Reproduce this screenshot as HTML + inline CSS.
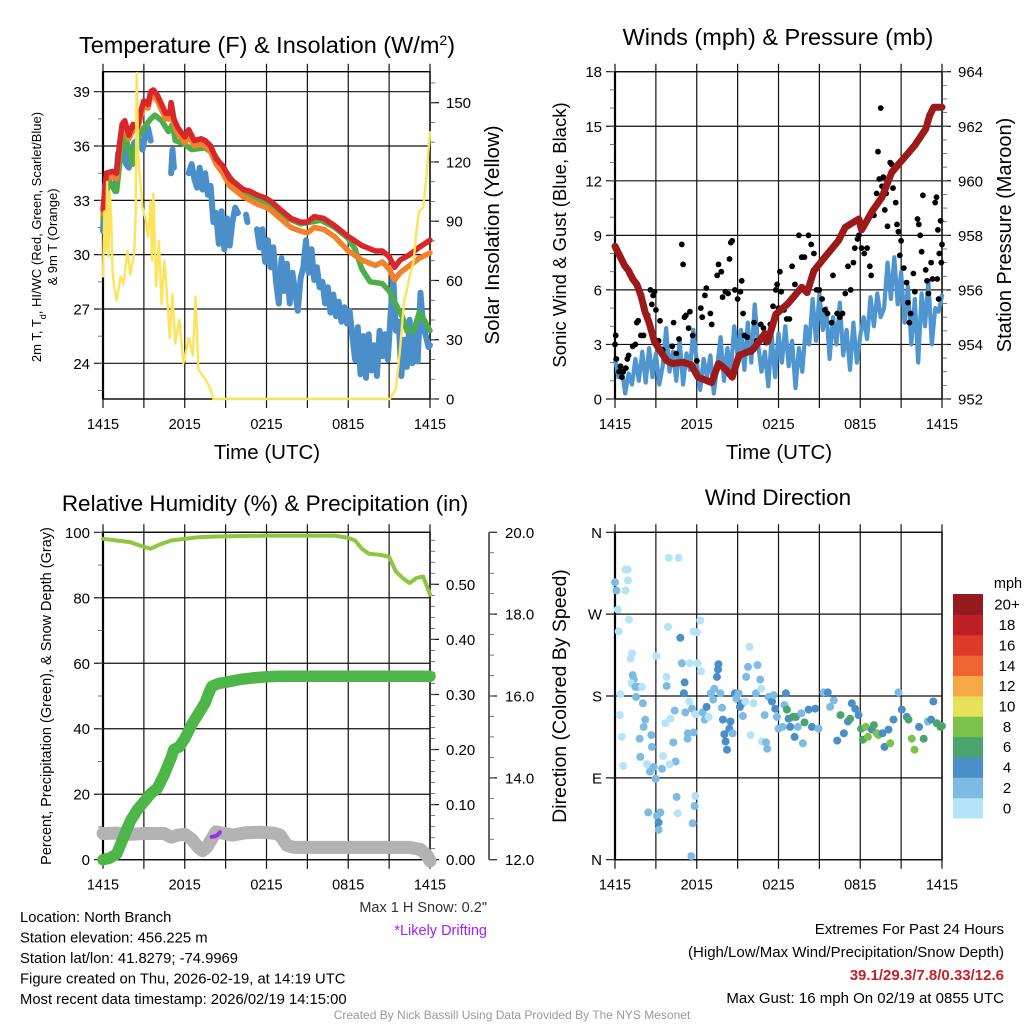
<!DOCTYPE html>
<html><head><meta charset="utf-8"><title>NYS Mesonet Meteogram</title>
<style>
html,body{margin:0;padding:0;background:#fff;}
svg{display:block;font-family:"Liberation Sans",Arial,sans-serif;}
</style></head>
<body>
<svg id="fig" xmlns="http://www.w3.org/2000/svg" width="1024" height="1024" viewBox="0 0 1024 1024"></svg>
<script>
// ===== Panel 1 data: temperature (F) & insolation =====
const redHours=[0,0.25,0.7,1,1.2,1.4,1.6,1.9,2.2,2.5,2.8,3,3.3,3.5,3.7,4,4.3,4.6,4.9,5,5.2,5.5,6,6.3,6.7,7.2,7.5,7.9,8.3,8.8,9.3,9.8,10.3,10.8,11.3,12,12.4,13,13.8,14.5,15,15.5,16.2,17,18,19,20,20.5,21,21.4,21.8,22.5,23.2,24];
const tempRed=[32.5,34.5,34.6,34.5,36,37.2,37.4,36.6,37.2,37,38,38.5,38.3,39,39.1,38.8,38.3,37.8,37.8,38.4,37.5,37,36.5,36.9,36.3,36.4,36.3,36,35.3,34.9,34.2,33.9,33.6,33.5,33.3,33.1,32.9,32.5,32.0,31.8,31.8,32.1,32.0,31.6,31.0,30.5,30.2,30.2,29.9,29.3,29.7,30,30.4,30.8];
const temp9mOrange=[32.3,34.2,34.3,34.2,35.8,37.0,37.1,36.4,36.9,36.8,37.7,38.2,38.1,38.7,38.8,38.5,38.0,37.5,37.5,38.1,37.2,36.7,36.2,36.5,36.0,36.1,36.0,35.7,35.0,34.5,33.8,33.5,33.2,33.0,32.8,32.6,32.4,32.0,31.5,31.3,31.2,31.5,31.4,31.0,30.2,29.7,29.4,29.6,29.2,28.6,29.0,29.4,29.8,30.1];
const greenHours=[0,0.4,1,1.3,1.6,2,2.2,2.5,3,3.5,3.8,4.3,4.8,5.1,5.3,6,6.5,7.5,8.2,8.8,9.6,10.3,11,11.6,12.5,13.3,14.5,15.2,16,17,18,18.5,19,19.6,20.5,21,22,22.3,22.8,23.2,23.5,24];
const dewGreen=[32,34,33.5,35.5,36.7,35.5,35,36.4,37,37.5,37.7,37.4,36.8,37.2,36.3,36.1,35.8,35.9,35.5,34.8,34,33.5,33.2,33,32.6,32.1,31.7,31.8,31.9,31.5,30.9,30.3,29.2,28.5,28.4,28,26.5,25.8,25.8,26.8,26.5,25.8];
const blueHours=[0,0.15,0.3,0.5,0.7,0.9,1.1,1.3,1.5,1.7,1.9,2.1,2.3,2.5,2.7,2.9,3.1,3.3,3.5,null,5.0,5.1,5.2,null,6.3,6.5,6.7,6.9,7.1,7.3,7.5,7.7,7.9,8.1,8.3,8.5,8.7,8.9,9.1,9.3,9.5,9.7,9.9,null,10.5,10.6,null,11.3,11.5,11.7,11.9,12.1,12.3,12.5,12.7,12.9,13.1,13.3,13.5,13.7,13.9,14.1,14.3,14.5,14.7,14.9,15.1,15.3,15.5,15.7,15.9,16.1,16.3,16.5,16.7,16.9,17.1,17.3,17.5,17.7,17.9,18.1,18.3,18.5,18.7,18.9,19.1,19.3,19.5,19.7,19.9,20.1,20.3,20.5,20.7,20.9,21.1,21.3,21.5,21.7,21.9,22.1,22.3,22.5,22.7,22.9,23.1,23.3,23.5,23.7,23.9,24];
const windChillBlue=[31.3,33.8,34.4,34,33.8,33.5,35.6,35.2,36.2,35.0,34.8,35.6,36.2,35.9,36.3,35.8,36.6,37.0,36.3,null,34.5,35.8,34.8,null,34.5,35.0,34.2,33.7,34.8,33.6,34.5,33.3,33.8,31.8,32.3,30.6,32.4,30.3,32.0,30.5,31.8,32.6,32.3,null,32.2,31.8,null,31.4,30.4,31.4,29.6,30.8,29.3,30.4,28.5,27.3,29.8,28.0,29.5,27.3,29.0,28.0,26.9,28.7,29.3,30.8,29.0,30.3,28.6,29.3,28.2,28.5,27.3,28.2,26.8,27.8,26.6,27.4,26.3,27.1,26.2,26.9,25.5,24.2,26.0,23.4,25.5,23.2,25.6,23.6,25.0,23.3,25.8,24.4,25.6,24.2,26.6,28.8,25.8,26.3,23.3,25.3,23.8,26.4,24.0,25.8,24.1,27.9,26.0,25.5,24.9,25.0];
const solarHours=[0,0.1,0.2,0.3,0.4,0.5,0.6,0.7,0.8,1.0,1.3,1.5,1.8,2.0,2.3,2.4,2.47,2.6,2.9,3.1,3.3,3.5,3.6,3.7,3.9,4.1,4.3,4.5,4.6,4.9,5.1,5.3,5.6,5.9,6.3,6.6,6.8,7.0,7.2,7.5,7.9,8.1,21.05,21.5,21.8,22.1,22.3,22.5,22.8,23.0,23.2,23.5,23.7,24];
const solarVals=[62,95,75,110,72,105,92,65,58,50,62,58,75,63,74,94,165,121,97,92,82,100,70,104,57,80,48,70,62,31,53,28,40,18,31,22,52,15,13,10,5,0,0,5,25,50,55,62,70,85,95,97,110,135];
const tempTicks=[24,27,30,33,36,39];
const solarTicks=[0,30,60,90,120,150];
const timeLabels=["1415","2015","0215","0815","1415"];

// ===== Panel 2 data: winds & pressure =====
const windBlue=[2.2,1.2,1.6,0.3,1.4,0.8,2.2,1.0,2.6,0.9,2.8,1.2,2.5,0.8,1.8,3.9,1.5,2.6,1.0,3.2,0.8,2.5,1.6,3.8,2.0,0.5,2.2,1.2,2.4,0.3,1.8,3.4,1.0,2.8,1.5,4.0,2.4,3.8,1.6,4.2,2.0,5.2,3.0,1.5,2.6,0.7,3.5,1.2,3.6,2.0,4.0,1.8,3.2,0.6,2.8,1.5,4.0,3.0,5.5,3.2,5.8,3.8,5.0,2.2,4.5,3.0,5.3,2.4,3.8,1.6,4.2,2.0,3.5,4.5,3.3,5.6,4.0,5.8,4.5,5.0,7.5,5.5,7.8,5.2,7.0,4.2,6.2,3.0,5.5,2.0,5.8,4.0,6.5,3.0,5.0,4.8,5.7];
const gustHours=[0,0.05,0.1,0.3,0.4,0.5,0.6,0.8,0.9,1.0,1.3,1.5,1.6,1.7,1.9,2.1,2.2,2.4,2.6,2.7,2.8,2.9,3.0,3.3,3.5,3.2,4.3,4.2,4.5,4.7,4.9,5.0,5.1,5.2,5.4,5.5,5.7,6.0,6.3,6.4,6.6,6.7,7.0,7.1,7.5,7.6,7.8,7.9,8.1,8.3,8.5,8.6,8.4,8.8,9.0,9.2,9.3,9.4,9.5,9.7,10.0,10.2,10.4,10.7,10.9,11.1,11.4,11.6,11.8,11.9,12.0,12.2,12.4,12.1,12.6,12.8,13.0,13.2,13.5,13.7,13.9,14.2,14.4,14.6,14.8,15.0,15.2,15.4,15.6,15.9,16.0,16.3,16.5,16.7,16.9,17.1,17.3,17.5,17.6,17.8,17.9,18.1,18.3,18.5,18.7,18.8,19.0,19.2,19.3,19.4,19.5,19.6,19.7,19.8,19.9,20.0,20.2,20.3,20.4,20.6,20.7,20.8,20.9,21.0,21.2,21.4,21.5,21.6,21.7,21.9,22.0,22.2,22.3,22.4,22.5,22.6,22.8,22.9,23.0,23.2,23.3,23.5,23.6,23.7,23.9,24.0,23.8,23.95,23.75,23.65];
const gustVals=[3.0,3.5,2.2,1.5,1.8,1.2,1.5,1.7,2.2,2.4,2.9,3.0,4.2,4.3,3.5,3.5,4.8,4.6,6.0,5.2,5.7,5.9,4.9,4.3,2.7,3.2,4.2,2.9,2.5,3.3,8.5,7.4,4.5,4.6,3.9,4.8,3.5,2.1,5.0,4.5,5.7,6.1,4.7,4.1,6.8,7.4,7.0,5.6,5.9,5.8,8.6,8.7,7.7,6.0,5.5,5.9,6.5,4.7,3.5,3.4,2.6,4.2,3.2,4.1,3.9,3.1,4.1,5.1,6.0,6.3,5.0,5.9,4.9,7.0,4.4,4.4,7.3,6.3,9.0,7.8,7.8,9.0,8.5,8.0,6.0,6.0,5.5,4.9,4.7,4.2,6.8,4.7,4.5,4.7,5.8,7.3,6.0,7.5,8.3,8.8,9.0,8.3,8.0,8.3,7.3,6.8,10.1,11.3,13.6,12.1,16.0,11.7,12.2,10.4,11.3,9.5,13.0,12.9,11.6,10.8,9.6,9.2,7.9,8.7,7.2,6.4,5.3,4.2,4.7,6.9,5.9,9.9,9.6,9.0,8.1,11.2,7.1,6.5,5.8,7.5,6.6,10.8,11.1,9.3,9.8,8.5,8.0,7.5,5.5,6.6];
const presHours=[0,0.3,0.7,1,1.3,1.6,1.9,2.2,2.5,2.9,3.45,3.8,4.2,5.0,5.6,6.1,7.1,7.6,8.1,8.6,9.1,10.1,11,11.2,11.8,12.7,13.7,14.1,14.6,15.4,16.4,16.9,17.9,18.1,18.9,19.6,20.3,20.8,21.5,22,22.8,23.1,23.4,24];
const presVals=[957.6,957.3,956.9,956.7,956.4,956.2,955.8,955.2,954.8,954.1,953.67,953.4,953.3,953.35,953.25,952.8,952.6,953.3,953.1,952.8,953.6,953.8,954.4,954.1,955.1,955.5,956.1,955.9,956.7,957.2,957.8,958.3,958.6,958.2,958.9,959.4,960.3,960.6,961,961.3,961.9,962.4,962.7,962.7];
const windTicks=[0,3,6,9,12,15,18];
const presTicks=[952,954,956,958,960,962,964];

// ===== Panel 3 data: RH, precip, snow depth =====
const rhHours=[0,1,2,3,3.5,4,5,6,7,8,12,17,18,18.5,19,19.5,20.5,21,21.5,22,22.5,23,23.5,24];
const rhVals=[98,97.5,97,95.5,95,96,97.5,98,98.5,98.7,99,99,98.3,97.5,95,93.5,93,92.5,88,86,84.5,86,86.5,81];
const precipHours=[0,0.5,1,1.5,2,2.5,3,3.5,4,4.5,5,5.2,5.6,6,6.5,7,7.5,7.8,8,8.5,9,10,11,12,13,24];
const precipVals=[0,0.003,0.01,0.04,0.07,0.09,0.105,0.12,0.13,0.155,0.185,0.2,0.205,0.22,0.245,0.265,0.285,0.305,0.315,0.32,0.322,0.327,0.33,0.332,0.333,0.333];
const snowHours=[0,1,2,3,4.5,5,5.5,6,6.5,7,7.3,7.6,8,8.3,8.8,9.5,10.5,11.5,12.5,13,13.5,14,16,20,22.5,23.3,23.8,24];
const snowVals=[12.64,12.65,12.62,12.64,12.64,12.55,12.6,12.62,12.5,12.3,12.22,12.3,12.52,12.68,12.65,12.6,12.66,12.67,12.65,12.6,12.35,12.3,12.3,12.3,12.3,12.25,12.1,11.97];
const driftHours=[7.97,8.2,8.4,8.58];
const driftVals=[12.56,12.57,12.6,12.67];
const rhTicks=[0,20,40,60,80,100];
const precipTicks=[0,0.1,0.2,0.3,0.4,0.5];
const snowTicks=[12,14,16,18,20];

// ===== Panel 4 data: wind direction =====
const dirHours=[0,0.1,0.2,0.27,0.4,0.35,0.5,0.6,0.76,0.93,0.95,0.78,1.03,1.25,1.15,1.3,1.37,1.2,1.5,1.69,1.98,1.54,2.05,1.81,2.22,2.1,1.86,2.35,2.57,2.67,2.71,2.84,2.98,3.03,2.44,3.08,3.33,3.2,3.2,3.45,3.52,3.69,3.89,3.94,4.67,3.77,3.79,4.08,4.28,4.38,4.45,4.0,4.52,4.6,4.79,4.91,5.11,5.06,5.16,5.33,5.35,5.45,5.5,5.77,6.01,6.26,6.06,6.31,5.89,5.84,5.7,5.6,5.65,5.77,5.89,6.43,6.58,6.72,6.87,7.04,7.21,7.29,7.48,7.56,7.6,7.73,7.85,7.92,8.02,8.12,8.22,8.39,8.48,8.63,8.8,8.9,9.07,9.17,9.32,9.39,9.56,9.63,9.76,9.88,9.95,10.17,10.34,10.46,10.66,10.73,10.78,10.98,11.08,11.17,11.27,11.52,11.64,11.76,11.88,12.0,12.3,12.44,12.54,12.62,12.74,12.86,13.06,13.18,13.28,13.42,13.67,13.79,13.91,14.21,14.45,14.69,14.94,15.31,15.62,15.79,16.06,16.31,16.55,16.8,17.09,17.26,17.38,17.63,17.87,18.07,18.19,18.41,18.56,18.85,19.0,19.22,19.34,19.63,19.78,20.07,20.2,20.44,20.81,21.05,21.42,21.54,21.78,21.98,22.32,22.66,22.96,23.2,23.37,23.62,23.89,23.99];
const dirDeg=[305,296,275,251,182,159,135,103,319,319,307,296,264,227,221,203,198,194,190,190,190,179,172,133,154,146,113,105,97,137,124,102,89,224,52,48,52,41,33,100,114,150,256,332,332,201,191,155,129,164,108,105,69,51,244,216,195,183,162,133,139,174,216,251,250,263,216,207,70,59,40,4,166,140,160,162,154,168,157,183,176,188,201,209,215,183,167,154,138,130,121,144,152,139,183,177,183,168,172,158,174,201,212,234,137,172,183,214,198,188,130,159,129,122,179,174,181,166,157,144,146,170,183,165,155,146,157,135,157,146,161,128,151,165,146,166,144,184,184,168,175,131,159,139,152,155,172,166,159,144,132,146,135,143,148,139,137,139,124,143,128,154,184,165,157,154,133,121,146,133,152,154,174,150,146,147];
const dirSpeed=[3,3,1,1,1,1,1,1,1,1,1,1,1,1,1,3,3,1,3,3,1,3,3,3,3,3,3,1,3,3,3,3,3,1,3,3,3,5,3,3,1,1,1,1,1,1,3,1,3,3,3,1,3,1,5,3,5,5,3,3,3,1,1,1,1,1,1,1,1,3,3,3,3,3,1,3,3,5,1,3,3,3,5,5,5,3,3,5,5,5,5,5,5,3,5,3,3,5,5,3,1,3,3,1,1,1,3,3,3,1,1,3,3,3,3,5,3,5,3,3,3,3,5,7,5,5,7,5,7,3,3,3,7,5,5,5,3,3,5,3,3,5,7,5,5,7,5,5,5,7,7,9,9,5,7,9,9,5,5,5,9,5,3,5,5,7,9,9,5,7,3,5,5,7,7,7];
const dirTickLabels=["N","E","S","W","N"];
const speedBins=[0,2,4,6,8,10,12,14,16,18,20];
const speedLabels=["0","2","4","6","8","10","12","14","16","18","20+"];
const speedColors=["#b5e3f8","#7dbbe5","#4a8fc7","#4aa56d","#7ac24a","#e6e05a","#f5a845","#ef652f","#de3a2b","#bf1e25","#961a1d"];

// ===== drawing helpers =====
const NS="http://www.w3.org/2000/svg";
const svg=document.getElementById('fig');
function el(tag,attrs,parent){const e=document.createElementNS(NS,tag);for(const k in attrs)e.setAttribute(k,attrs[k]);(parent||svg).appendChild(e);return e;}
function lin(d0,d1,r0,r1){return v=>r0+(v-d0)*(r1-r0)/(d1-d0);}
function txt(s,x,y,size,anchor,name,extra){
  const t=el('text',Object.assign({x:x,y:y,'font-size':size,'text-anchor':anchor||'start',fill:'#000'},extra||{}));
  t.textContent=s;
  
  
  return t;
}
function vtxt(s,x,y,size,name){
  const t=el('text',{x:0,y:0,'font-size':size,'text-anchor':'middle',fill:'#000',transform:`translate(${x},${y}) rotate(-90)`});
  t.textContent=s;
  
  
  return t;
}
function path(hs,vs,sx,sy,color,w,name,extra){
  let d='',pen=false;
  for(let i=0;i<hs.length;i++){
    if(hs[i]===null||vs[i]===null){pen=false;continue;}
    d+=(pen?'L':'M')+sx(hs[i]).toFixed(1)+','+sy(vs[i]).toFixed(1);pen=true;
  }
  const p=el('path',Object.assign({d:d,fill:'none',stroke:color,'stroke-width':w,'stroke-linejoin':'round','stroke-linecap':'round'},extra||{}));
  
  
  return p;
}
function frame(P,name){
  const g=el('g',{});
  
  
  for(let h=0;h<=24;h+=3){
    const x=P.sx(h);
    const ln=el('line',{x1:x,x2:x,y1:P.y0-8,y2:P.y1+9,stroke:'#111','stroke-width':1.2},g);
    
    
  }
  for(let i=0;i<timeLabels.length;i++){
    txt(timeLabels[i],P.sx(i*6),P.y1+30,14.5,'middle','x-tick-label');
  }
  const r=el('rect',{x:P.x0,y:P.y0,width:P.x1-P.x0,height:P.y1-P.y0,fill:'none',stroke:'#000','stroke-width':1.4},g);
  
  
  const lb=el('line',{x1:P.x0,x2:P.x0,y1:P.y0,y2:P.y1,stroke:'#000','stroke-width':2.2},g);
  
  
  return g;
}
function leftAxis(P,ticks,sy,fmt,minorStep,name){
  for(const v of ticks){
    const y=sy(v);
    const ln=el('line',{x1:P.x0-9,x2:P.x1,y1:y,y2:y,stroke:'#111','stroke-width':1.2});
    
    
    txt(fmt(v),P.x0-13,y+5.5,15,'end',name+'-tick-label');
  }
  if(minorStep){
    const lo=ticks[0],hi=ticks[ticks.length-1];
    for(let v=lo-minorStep*20;v<=hi+minorStep*20;v+=minorStep){
      const y=sy(v);
      if(y<P.y0-0.5||y>P.y1+0.5)continue;
      const m=el('line',{x1:P.x0-5,x2:P.x0,y1:y,y2:y,stroke:'#555','stroke-width':0.8});
      
      
    }
  }
}
function rightAxis(P,ticks,sy,fmt,minorStep,name){
  for(const v of ticks){
    const y=sy(v);
    const ln=el('line',{x1:P.x1,x2:P.x1+9,y1:y,y2:y,stroke:'#111','stroke-width':1.2});
    
    
    txt(fmt(v),P.x1+16,y+5.5,15,'start',name+'-tick-label');
  }
  if(minorStep){
    const lo=ticks[0];
    for(let k=-40;k<200;k++){
      const v=lo+k*minorStep;const y=sy(v);
      if(y<P.y0-0.5||y>P.y1+0.5)continue;
      const m=el('line',{x1:P.x1,x2:P.x1+5,y1:y,y2:y,stroke:'#555','stroke-width':0.8});
      
      
    }
  }
}

// ===== Panel 1 =====
const P1={x0:103,x1:430,y0:71.7,y1:399};
P1.sx=lin(0,24,P1.x0,P1.x1);
const yTemp=lin(24,39,363.3,91.7);
const ySolar=lin(0,150,399,102.7);
frame(P1,'temperature-panel-frame');
leftAxis(P1,tempTicks,yTemp,v=>String(v),1.5,'temperature-axis');
rightAxis(P1,solarTicks,ySolar,v=>String(v),10,'solar-axis');
path(blueHours,windChillBlue,P1.sx,yTemp,'#4a8fc9',6,'windchill-blue-line');
path(greenHours,dewGreen,P1.sx,yTemp,'#4cae47',5.5,'dewpoint-green-line');
path(redHours,temp9mOrange,P1.sx,yTemp,'#f3802b',5.5,'temp-9m-orange-line');
path(redHours,tempRed,P1.sx,yTemp,'#d8262a',5.5,'temp-2m-red-line');
path(solarHours,solarVals,P1.sx,ySolar,'#fde35a',2.4,'solar-insolation-line');
{const t=txt('Temperature (F) & Insolation (W/m',267,53,23.5,'middle','temperature-panel-title');
 const s=el('tspan',{'baseline-shift':'super','font-size':14},t);s.textContent='2';
 const e=el('tspan',{},t);e.textContent=')';}
txt('Time (UTC)',267,459,20.5,'middle','x-axis-title');
vtxt('Solar Insolation (Yellow)',499,235,20.5,'solar-axis-title');
{const t=el('text',{x:0,y:0,'font-size':13,'text-anchor':'middle',transform:'translate(41,237) rotate(-90)'});
 
 
 const a=el('tspan',{},t);a.textContent='2m T, T';
 const b=el('tspan',{'baseline-shift':'sub','font-size':9},t);b.textContent='d';
 const c=el('tspan',{},t);c.textContent=', HI/WC (Red, Green, Scarlet/Blue)';
 const t2=el('text',{x:0,y:0,'font-size':13,'text-anchor':'middle',transform:'translate(57,237) rotate(-90)'});
 t2.textContent='& 9m T (Orange)';
 
 }

// ===== Panel 2 =====
const P2={x0:615,x1:942,y0:71.7,y1:399};
P2.sx=lin(0,24,P2.x0,P2.x1);
const yWind=lin(0,18,399,71.7);
const yPres=lin(952,964,399,71.7);
frame(P2,'wind-panel-frame');
leftAxis(P2,windTicks,yWind,v=>String(v),1,'wind-axis');
rightAxis(P2,presTicks,yPres,v=>String(v),0.5,'pressure-axis');
{const hs=windBlue.map((v,i)=>i*24/(windBlue.length-1));
 path(hs,windBlue,P2.sx,yWind,'#4f95d0',4.2,'sonic-wind-line');}
for(let i=0;i<gustHours.length;i++){
  const c=el('circle',{cx:P2.sx(gustHours[i]).toFixed(1),cy:yWind(gustVals[i]).toFixed(1),r:2.9,fill:'#000'});
  
  
}
path(presHours,presVals,P2.sx,yPres,'#9c1a1c',7,'station-pressure-line');
txt('Winds (mph) & Pressure (mb)',778,45,23.5,'middle','wind-panel-title');
txt('Time (UTC)',779,459,20.5,'middle','x-axis-title-2');
vtxt('Sonic Wind & Gust (Blue, Black)',566,235,18.5,'wind-axis-title');
vtxt('Station Pressure (Maroon)',1011,235,20,'pressure-axis-title');

// ===== Panel 3 =====
const P3={x0:103,x1:430,y0:532.3,y1:859.7};
P3.sx=lin(0,24,P3.x0,P3.x1);
const yRH=lin(0,100,859.7,532.3);
const yPrecip=lin(0,0.5,859.7,584.3);
const ySnow=lin(12,20,859.7,532.3);
frame(P3,'humidity-panel-frame');
leftAxis(P3,rhTicks,yRH,v=>String(v),10,'rh-axis');
rightAxis(P3,precipTicks,yPrecip,v=>v.toFixed(2),0.02,'precip-axis');
{const ax=el('line',{x1:489,x2:489,y1:532.3,y2:859.7,stroke:'#111','stroke-width':1.3});
 
 
 for(const v of snowTicks){const y=ySnow(v);
   const tk=el('line',{x1:489,x2:497,y1:y,y2:y,stroke:'#111','stroke-width':1.2});
   
   
   txt(v.toFixed(1),505,y+5.5,15,'start','snow-depth-tick-label');}
 for(let k=0;k<=16;k++){const y=ySnow(12+k*0.5);
   const m=el('line',{x1:489,x2:494,y1:y,y2:y,stroke:'#555','stroke-width':0.8});
   
   }}
path(snowHours,snowVals,P3.sx,ySnow,'#b3b3b3',13,'snow-depth-line');
path(driftHours,driftVals,P3.sx,ySnow,'#9b30e0',4,'likely-drifting-line');
path(precipHours,precipVals,P3.sx,yPrecip,'#4cb748',11.5,'precipitation-line');
path(rhHours,rhVals,P3.sx,yRH,'#8dc63f',4,'relative-humidity-line');
txt('Relative Humidity (%) & Precipitation (in)',265,511,22.5,'middle','humidity-panel-title');
vtxt('Percent, Precipitation (Green), & Snow Depth (Gray)',51,696,14.5,'humidity-axis-title');
txt('Max 1 H Snow: 0.2"',487,912,14.5,'end','max-snow-note',{fill:'#333'});
txt('*Likely Drifting',487,935,14.5,'end','likely-drifting-note',{fill:'#a020f0'});

// ===== Panel 4 =====
const P4={x0:615,x1:942,y0:532.3,y1:859.7};
P4.sx=lin(0,24,P4.x0,P4.x1);
const yDir=lin(0,360,859.7,532.3);
frame(P4,'direction-panel-frame');
leftAxis(P4,[0,90,180,270,360],yDir,v=>dirTickLabels[v/90],0,'direction-axis');
function speedColor(s){let c=speedColors[0];for(let i=0;i<speedBins.length;i++){if(s>=speedBins[i])c=speedColors[i];}return c;}
for(let i=0;i<dirHours.length;i++){
  const c=el('circle',{cx:P4.sx(dirHours[i]).toFixed(1),cy:yDir(dirDeg[i]).toFixed(1),r:4,fill:speedColor(dirSpeed[i])});
  
  
}
txt('Wind Direction',778,505,22.5,'middle','direction-panel-title');
vtxt('Direction (Colored By Speed)',566,696,19.5,'direction-axis-title');
txt('mph',1008,588,14.5,'middle','speed-legend-title');
for(let i=0;i<speedColors.length;i++){
  const y=818-(i+1)*(224/11);
  const b=el('rect',{x:953,y:y.toFixed(1),width:30,height:(224/11+0.5).toFixed(1),fill:speedColors[i]});
  
  
  txt(speedLabels[i],1007,y+224/22+5.5,15,'middle','speed-legend-label');
}

// ===== Footer text =====
const info=['Location: North Branch','Station elevation: 456.225 m','Station lat/lon: 41.8279; -74.9969','Figure created on Thu, 2026-02-19, at 14:19 UTC','Most recent data timestamp: 2026/02/19 14:15:00'];
for(let i=0;i<info.length;i++){txt(info[i],20,922+i*20.5,14.8,'start','station-info-line');}
txt('Extremes For Past 24 Hours',1004,934,15,'end','extremes-title');
txt('(High/Low/Max Wind/Precipitation/Snow Depth)',1004,957,15,'end','extremes-legend');
txt('39.1/29.3/7.8/0.33/12.6',1004,980,15,'end','extremes-values',{fill:'#c8202a','font-weight':'bold'});
txt('Max Gust: 16 mph On 02/19 at 0855 UTC',1004,1003,15,'end','max-gust-note');
txt('Created By Nick Bassill Using Data Provided By The NYS Mesonet',512,1019,12,'middle','credit-line',{fill:'#999'});
</script>
</body></html>
